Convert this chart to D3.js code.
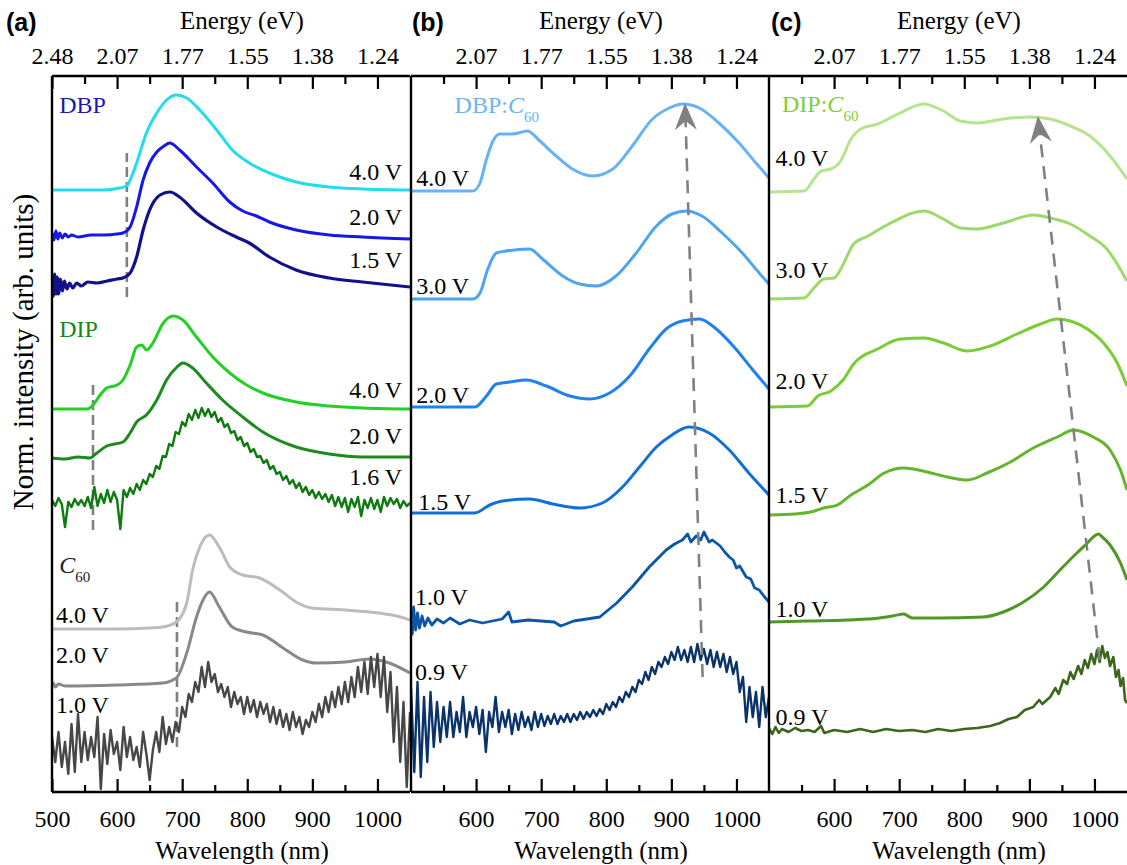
<!DOCTYPE html>
<html><head><meta charset="utf-8">
<script src="https://cdn.jsdelivr.net/npm/d3@7"></script>
<style>body{margin:0;background:#fff}svg{display:block}</style>
</head><body>
<svg id="chart" width="1127" height="865"></svg>
<script>
// ---------------- DATA ----------------
const wlDomain = [500, 1050];
const yDomain = [0, 71.6];
const majorTicksA = [500, 600, 700, 800, 900, 1000];
const majorTicksBC = [600, 700, 800, 900, 1000];
const minorTicks = [550, 650, 750, 850, 950];
const energyLabelsA = ["2.48", "2.07", "1.77", "1.55", "1.38", "1.24"];
const energyLabelsBC = ["2.07", "1.77", "1.55", "1.38", "1.24"];
const panelNames = ["(a)", "(b)", "(c)"];
const materialLabels = ["DBP", "DIP", "C60", "DBP:C60", "DIP:C60"];
const voltsDBP = ["4.0 V", "2.0 V", "1.5 V"];
const voltsDIP = ["4.0 V", "2.0 V", "1.6 V"];
const voltsC60 = ["4.0 V", "2.0 V", "1.0 V"];
const voltsBlend = ["4.0 V", "3.0 V", "2.0 V", "1.5 V", "1.0 V", "0.9 V"];

// panel (a) : DBP
const dbp40 = [[500,60.2],[580,60.2],[604,60.4],[615,60.6],[622,61.5],[630,62.9],[645,65.9],[661,67.9],[676,69.2],[692,69.7],[707,69.4],[727,68.2],[753,66.2],[777,64.2],[803,62.9],[834,61.9],[875,61.0],[926,60.5],[977,60.3],[1050,60.2]];
const dbp20 = [[500,55.9],[503,55.2],[506,56.1],[509,55.3],[512,55.9],[516,55.4],[520,55.8],[525,55.5],[530,55.7],[540,55.5],[560,55.7],[580,55.7],[600,55.8],[609,55.9],[620,56.5],[630,58.5],[640,61.2],[650,62.9],[661,64.0],[672,64.6],[681,64.9],[696,64.2],[722,62.5],[747,60.9],[773,59.0],[793,58.1],[814,57.6],[834,57.0],[875,56.2],[926,55.7],[977,55.5],[1050,55.3]];
const dbp15 = [[500,51.6],[502,49.6],[504,51.8],[506,49.8],[508,51.5],[510,49.8],[513,51.3],[516,50.1],[519,51.1],[523,50.3],[527,50.9],[532,50.4],[538,50.9],[545,50.6],[555,51.0],[569,50.9],[585,51.1],[600,51.3],[609,51.4],[620,51.9],[630,53.5],[640,56.2],[650,58.2],[666,59.7],[681,60.0],[696,59.5],[722,57.9],[753,56.5],[783,55.5],[803,54.9],[834,53.5],[875,52.2],[926,51.4],[977,51.0],[1050,50.5]];
// panel (a) : DIP
const dip40 = [[500,38.3],[554,38.3],[563,38.7],[574,39.7],[584,40.4],[600,40.7],[609,41.2],[620,42.7],[630,44.5],[638,44.7],[645,44.2],[655,44.9],[671,46.9],[686,47.6],[701,47.2],[722,45.5],[747,43.5],[773,41.9],[799,40.7],[824,39.9],[875,39.0],[926,38.6],[977,38.4],[1050,38.3]];
const dip20 = [[500,33.4],[520,33.3],[540,33.5],[558,33.4],[569,33.9],[584,34.6],[609,35.0],[620,35.9],[630,37.0],[645,37.7],[661,39.2],[676,41.2],[692,42.5],[701,42.9],[716,42.4],[737,40.9],[762,39.2],[793,37.5],[824,36.0],[875,34.5],[926,33.8],[977,33.5],[1050,33.5]];
const dip16 = [[500,29.2],[505,28.6],[510,29.4],[515,28.8],[520,26.5],[525,29.0],[530,28.5],[535,29.3],[540,28.7],[545,29.2],[550,28.6],[555,29.5],[560,28.4],[565,30.5],[570,28.6],[575,29.8],[580,28.9],[585,30.2],[590,29.0],[595,30.0],[600,29.2],[605,26.3],[610,30.2],[615,29.5],[620,30.4],[625,29.8],[630,30.8],[635,30.2],[640,31.2],[645,30.8],[650,31.8],[655,31.5],[660,32.6],[665,32.3],[670,33.6],[675,33.5],[680,34.8],[685,34.6],[690,36.0],[695,35.8],[700,37.0],[705,36.6],[710,37.8],[715,37.2],[720,38.2],[725,37.4],[730,38.4],[735,37.6],[740,38.3],[745,37.5],[750,38.0],[755,37.0],[760,37.4],[765,36.5],[770,36.8],[775,35.9],[780,36.1],[785,35.2],[790,35.5],[795,34.6],[800,34.9],[805,34.0],[810,34.3],[815,33.5],[820,33.6],[825,32.9],[830,33.2],[835,32.3],[840,32.6],[845,31.8],[850,32.0],[855,31.2],[860,31.6],[865,30.8],[870,31.2],[875,30.4],[880,30.9],[885,30.0],[890,30.5],[895,29.7],[900,30.2],[905,29.4],[910,30.0],[915,29.3],[920,29.8],[925,29.0],[930,29.7],[935,28.6],[940,29.5],[945,28.5],[950,29.4],[955,28.0],[960,29.3],[965,28.5],[970,29.5],[975,27.6],[980,29.2],[985,28.4],[990,29.4],[995,28.3],[1000,29.2],[1005,28.0],[1010,29.5],[1015,28.6],[1020,29.4],[1025,28.8],[1030,29.3],[1035,28.4],[1040,29.1],[1045,28.6],[1050,28.9]];
// panel (a) : C60
const c6040 = [[500,16.3],[600,16.3],[650,16.4],[670,16.5],[691,17.0],[707,18.9],[716,22.2],[727,24.5],[742,25.7],[757,24.5],[773,22.5],[793,21.7],[819,21.4],[850,20.2],[875,19.0],[900,18.4],[951,18.2],[1002,17.9],[1030,17.6],[1050,17.2]];
const c6020 = [[500,10.6],[502,10.9],[505,10.5],[510,10.8],[520,10.6],[600,10.7],[670,10.9],[691,11.4],[707,13.9],[722,17.5],[732,19.2],[742,20.0],[757,18.5],[777,16.5],[799,16.0],[824,15.7],[855,14.4],[885,13.2],[906,12.9],[951,13.0],[987,13.3],[1018,12.9],[1050,11.9]];
const c6010 = [[500,5.5],[505,3.0],[510,6.0],[515,2.5],[520,5.0],[525,1.8],[530,6.8],[535,2.0],[540,7.8],[545,3.0],[550,6.0],[555,3.2],[560,5.5],[565,3.5],[570,7.5],[575,0.3],[580,5.8],[585,2.8],[590,6.2],[595,3.8],[600,5.0],[605,2.2],[610,6.5],[615,3.5],[620,5.5],[625,3.2],[630,4.5],[635,2.5],[640,6.0],[645,3.8],[650,1.2],[655,4.2],[660,6.0],[665,4.0],[670,7.5],[675,4.8],[680,6.5],[685,5.0],[690,7.0],[695,6.0],[700,8.5],[705,7.5],[710,9.8],[715,9.0],[720,11.0],[725,10.0],[730,12.5],[735,10.5],[740,13.0],[745,11.0],[750,11.8],[755,10.0],[760,10.8],[765,9.5],[770,10.5],[775,8.5],[780,10.0],[785,8.8],[790,9.5],[795,7.8],[800,9.5],[805,8.0],[810,9.2],[815,7.5],[820,9.0],[825,7.8],[830,8.8],[835,7.0],[840,8.5],[845,6.8],[850,8.2],[855,6.5],[860,7.8],[865,6.2],[870,8.0],[875,6.5],[880,7.5],[885,5.8],[890,7.2],[895,6.5],[900,8.0],[905,7.0],[910,8.8],[915,7.5],[920,9.5],[925,8.0],[930,10.0],[935,8.5],[940,10.5],[945,8.8],[950,11.0],[955,9.0],[960,11.5],[965,9.5],[970,12.5],[975,10.0],[980,13.0],[985,9.8],[990,13.5],[995,10.5],[1000,13.8],[1005,9.5],[1010,13.5],[1015,8.0],[1020,12.0],[1025,5.0],[1030,10.5],[1035,3.0],[1040,9.0],[1045,0.5],[1050,8.0]];
const onsetLinesA = [[615,49.5,63.9],[563,26.2,41.0],[692,4.5,19.2]]; // [wavelength, from, to]

// panel (b) : DBP:C60
const b40 = [[500,60.1],[595,60.1],[606,60.9],[616,63.3],[626,65.1],[636,65.8],[656,65.8],[679,66.1],[698,65.1],[723,63.6],[748,62.3],[779,61.6],[810,62.3],[840,64.6],[871,67.3],[897,68.4],[917,68.8],[943,68.4],[973,66.9],[1004,64.9],[1030,62.9],[1050,61.4]];
const b30 = [[500,49.3],[595,49.3],[606,49.9],[618,52.3],[631,53.9],[646,54.1],[682,54.3],[702,53.3],[733,51.6],[759,50.8],[785,50.6],[815,51.6],[846,53.9],[877,56.6],[901,57.8],[923,58.1],[947,57.6],[978,55.9],[1009,53.9],[1035,51.9],[1050,50.8]];
const b20 = [[500,38.5],[598,38.5],[616,39.6],[631,40.8],[652,41.0],[677,41.2],[708,40.6],[744,39.6],[774,39.3],[805,39.9],[836,41.6],[866,44.3],[892,46.3],[917,47.1],[943,47.3],[969,46.3],[999,44.3],[1024,42.3],[1050,40.3]];
const b15 = [[500,27.9],[598,27.9],[621,28.7],[641,29.1],[682,29.3],[718,28.8],[759,28.4],[794,28.9],[825,30.5],[851,32.5],[877,34.5],[901,35.7],[927,36.5],[958,35.9],[989,34.2],[1019,31.9],[1050,29.7]];
const b10 = [[500,17.8],[502,15.8],[504,18.5],[507,16.2],[510,17.9],[513,16.4],[517,17.6],[521,16.6],[526,17.4],[532,16.7],[540,17.3],[550,16.9],[560,17.4],[575,16.8],[590,17.2],[610,16.9],[640,17.3],[650,18.0],[655,17.0],[680,17.2],[720,17.0],[730,16.6],[750,17.1],[790,17.5],[816,18.9],[840,20.5],[866,22.5],[892,24.2],[905,24.8],[917,25.2],[925,25.8],[930,25.0],[938,25.6],[945,25.2],[950,26.0],[958,25.0],[963,25.2],[975,24.6],[982,24.0],[989,23.5],[995,23.2],[1000,22.4],[1005,22.6],[1015,21.5],[1022,21.3],[1028,20.4],[1035,20.2],[1042,19.6],[1050,19.0]];
const b09 = [[500,10.5],[505,2.0],[510,11.0],[515,1.5],[520,9.5],[525,3.0],[530,10.0],[535,4.5],[540,9.0],[545,5.0],[550,8.5],[555,5.5],[560,9.0],[565,5.5],[570,8.0],[575,6.0],[580,9.5],[585,5.5],[590,8.0],[595,6.5],[600,8.5],[605,5.8],[610,8.2],[615,4.0],[620,8.0],[625,6.5],[630,9.5],[635,6.0],[640,8.0],[645,6.5],[650,8.2],[655,5.8],[660,7.8],[665,6.2],[670,8.0],[675,6.5],[680,7.5],[685,6.2],[690,8.0],[695,6.5],[700,7.8],[705,6.6],[710,7.6],[715,6.8],[720,7.8],[725,6.8],[730,7.6],[735,7.0],[740,7.8],[745,7.0],[750,7.8],[755,7.2],[760,8.0],[765,7.3],[770,8.0],[775,7.5],[780,8.2],[785,7.6],[790,8.3],[795,7.8],[800,8.8],[805,8.2],[810,9.0],[815,8.5],[820,9.5],[825,9.0],[830,10.0],[835,9.5],[840,10.5],[845,10.0],[850,11.2],[855,10.8],[860,12.0],[865,11.2],[870,12.5],[875,11.8],[880,13.0],[885,12.5],[890,13.5],[895,12.8],[900,14.0],[905,13.2],[910,14.5],[915,13.2],[920,14.2],[925,13.0],[930,14.5],[935,13.0],[940,14.8],[945,13.2],[950,14.3],[955,12.8],[960,14.2],[965,12.5],[970,14.0],[975,12.5],[980,13.8],[985,12.0],[990,13.5],[995,11.8],[1000,13.0],[1005,10.0],[1010,11.5],[1015,7.0],[1020,10.5],[1025,7.5],[1030,10.0],[1035,6.5],[1040,10.5],[1045,7.5],[1050,9.5]];
const shiftArrowB = [948, 11.5, 921, 68.9]; // from (wl,u) to (wl,u)

// panel (c) : DIP:C60
const c40 = [[500,60.0],[554,60.1],[569,61.3],[580,62.1],[595,62.3],[610,63.1],[626,65.3],[641,66.3],[667,66.8],[698,67.8],[738,68.8],[768,68.1],[794,67.1],[820,66.9],[860,67.3],[901,67.5],[932,67.3],[963,66.6],[993,65.6],[1024,63.6],[1050,61.3]];
const c30 = [[500,49.3],[554,49.4],[569,50.4],[584,51.3],[600,51.4],[615,52.9],[630,54.8],[652,55.6],[687,56.9],[738,58.1],[768,57.3],[794,56.4],[820,56.3],[860,56.9],[906,57.7],[932,57.4],[963,56.8],[993,55.6],[1019,54.3],[1050,51.1]];
const c20 = [[500,38.5],[559,38.6],[575,39.6],[595,40.1],[615,41.3],[630,42.8],[667,44.3],[702,45.3],[738,45.4],[768,44.9],[805,44.1],[840,44.6],[881,45.8],[917,46.8],[943,47.3],[963,47.1],[989,46.3],[1014,44.9],[1035,42.9],[1050,40.6]];
const c15 = [[500,27.7],[540,27.8],[564,28.0],[584,28.4],[605,28.7],[626,29.7],[652,30.7],[677,31.9],[707,32.4],[743,32.0],[774,31.5],[805,31.2],[835,31.9],[871,33.0],[906,34.4],[943,35.5],[968,36.2],[998,35.5],[1024,34.2],[1040,32.2],[1050,30.2]];
const c10 = [[500,17.0],[560,17.1],[620,17.2],[670,17.4],[690,17.6],[707,17.8],[720,17.4],[760,17.4],[829,17.5],[860,18.0],[891,19.0],[922,20.5],[947,22.2],[973,23.9],[989,24.9],[1000,25.6],[1006,25.8],[1012,25.5],[1024,24.7],[1040,22.9],[1050,21.2]];
const c09 = [[500,6.4],[505,5.8],[510,6.5],[515,5.9],[520,6.3],[530,6.0],[540,6.4],[550,6.1],[560,6.2],[570,6.0],[580,6.6],[585,5.9],[600,6.2],[620,6.0],[640,6.3],[660,6.0],[680,6.3],[700,6.1],[720,6.2],[740,6.0],[760,6.3],[780,6.1],[800,6.3],[820,6.4],[840,6.6],[855,6.9],[868,7.3],[881,7.5],[893,8.2],[906,8.5],[915,9.2],[920,8.8],[932,9.5],[940,10.4],[945,9.8],[952,11.2],[958,10.8],[963,12.0],[968,11.3],[975,12.6],[980,11.8],[985,13.2],[990,12.4],[995,13.8],[1000,12.8],[1004,14.2],[1008,13.0],[1012,14.6],[1016,13.4],[1020,14.0],[1024,12.6],[1029,13.5],[1033,11.5],[1037,12.2],[1040,10.6],[1044,11.4],[1047,9.2],[1050,8.9]];
const shiftArrowC = [1008, 13.2, 913, 67.6];

// ---------------- CHART ----------------
const svg = d3.select("#chart");
const SERIF = "'Liberation Serif','Times New Roman',serif";
const SANS = "'Liberation Sans',Arial,sans-serif";
const TOP = 76, BOTTOM = 792, PW = 358;
const y = d3.scaleLinear().domain(yDomain).range([BOTTOM, TOP]);

const panels = [
  { left: 52, name: panelNames[0], nameX: 6, majors: majorTicksA, energy: energyLabelsA,
    series: [
      { d: dbp40, c: "#22dcee", w: 3 }, { d: dbp20, c: "#1717e6", w: 3 }, { d: dbp15, c: "#11118a", w: 3.2 },
      { d: dip40, c: "#22d022", w: 3 }, { d: dip20, c: "#1d8a1d", w: 3 }, { d: dip16, c: "#0f7a0f", w: 2.4, lin: true },
      { d: c6040, c: "#bcbcbc", w: 3 }, { d: c6020, c: "#888888", w: 3 }, { d: c6010, c: "#474747", w: 2.4, lin: true }
    ],
    labels: [
      { t: voltsDBP[0], at: [1038, 61.2], a: "end" }, { t: voltsDBP[1], at: [1038, 56.7], a: "end" }, { t: voltsDBP[2], at: [1038, 52.4], a: "end" },
      { t: voltsDIP[0], at: [1038, 39.4], a: "end" }, { t: voltsDIP[1], at: [1038, 34.8], a: "end" }, { t: voltsDIP[2], at: [1038, 30.7], a: "end" },
      { t: voltsC60[0], at: [506, 16.9], a: "start" }, { t: voltsC60[1], at: [506, 12.9], a: "start" }, { t: voltsC60[2], at: [506, 7.9], a: "start" }
    ],
    mats: [
      { t: materialLabels[0], at: [511, 67.9], c: "#1a1aa8" },
      { t: materialLabels[1], at: [511, 45.5], c: "#148a14" },
      { t: materialLabels[2], at: [511, 21.9], c: "#222222" }
    ]
  },
  { left: 411, name: panelNames[1], nameX: 412, majors: majorTicksBC, energy: energyLabelsBC,
    series: [
      { d: b40, c: "#66b2f7", w: 3 }, { d: b30, c: "#4ca4f2", w: 3 }, { d: b20, c: "#1f82ea", w: 3 },
      { d: b15, c: "#1070d8", w: 3 }, { d: b10, c: "#0b56a8", w: 2.8, lin: true }, { d: b09, c: "#0a3469", w: 2.4, lin: true }
    ],
    labels: voltsBlend.map((t, i) => ({ t, at: [[508, 60.6], [508, 49.8], [508, 38.9], [511, 28.2], [506, 18.7], [506, 11.2]][i], a: "start" })),
    mats: [{ t: materialLabels[3], at: [567, 67.9], c: "#6ab4fa" }],
    arrow: shiftArrowB
  },
  { left: 769, name: panelNames[2], nameX: 771, majors: majorTicksBC, energy: energyLabelsBC,
    series: [
      { d: c40, c: "#b6e48e", w: 3 }, { d: c30, c: "#9cd96a", w: 3 }, { d: c20, c: "#78cd34", w: 3 },
      { d: c15, c: "#63b52c", w: 3 }, { d: c10, c: "#4e9824", w: 3 }, { d: c09, c: "#3b661c", w: 2.6, lin: true }
    ],
    labels: voltsBlend.map((t, i) => ({ t, at: [[510, 62.6], [510, 51.4], [510, 40.3], [510, 28.9], [510, 17.5], [510, 6.7]][i], a: "start" })),
    mats: [{ t: materialLabels[4], at: [520, 68.0], c: "#7ccf3a" }],
    arrow: shiftArrowC
  }
];

const defs = svg.append("defs");

panels.forEach((p, pi) => {
  const x = d3.scaleLinear().domain(wlDomain).range([p.left, p.left + PW]);
  const g = svg.append("g");
  defs.append("clipPath").attr("id", "clip" + pi).append("rect")
    .attr("x", p.left).attr("y", TOP).attr("width", PW).attr("height", BOTTOM - TOP);
  const plot = g.append("g").attr("clip-path", `url(#clip${pi})`);

  if (pi === 0) {
    onsetLinesA.forEach(([wl, u0, u1]) => {
      plot.append("line").attr("x1", x(wl)).attr("x2", x(wl)).attr("y1", y(u0)).attr("y2", y(u1))
        .attr("stroke", "#808080").attr("stroke-width", 2.6).attr("stroke-dasharray", "10,5");
    });
  }

  p.series.forEach(s => {
    const line = d3.line().x(d => x(d[0])).y(d => y(d[1]))
      .curve(s.lin ? d3.curveLinear : d3.curveMonotoneX);
    plot.append("path").datum(s.d).attr("d", line).attr("fill", "none")
      .attr("stroke", s.c).attr("stroke-width", s.w).attr("stroke-linejoin", "round");
  });

  if (p.arrow) {
    const [w0, u0, w1, u1] = p.arrow;
    const sx = x(w0), sy = y(u0), tx = x(w1), ty = y(u1);
    const len = Math.hypot(tx - sx, ty - sy);
    const dx = (tx - sx) / len, dy = (ty - sy) / len, nx = -dy, ny = dx;
    const L = 27, HW = 11, notch = 9;
    plot.append("line").attr("x1", sx).attr("y1", sy)
      .attr("x2", tx - dx * (L - notch)).attr("y2", ty - dy * (L - notch))
      .attr("stroke", "#808080").attr("stroke-width", 2.6).attr("stroke-dasharray", "13,9");
    const pts = [[tx, ty], [tx - dx * L + nx * HW, ty - dy * L + ny * HW],
      [tx - dx * (L - notch), ty - dy * (L - notch)], [tx - dx * L - nx * HW, ty - dy * L - ny * HW]];
    plot.append("path").attr("d", "M" + pts.map(q => q.join(",")).join("L") + "Z").attr("fill", "#808080");
  }

  const energyFmt = v => p.energy[p.majors.indexOf(v)];
  const styleAxis = sel => {
    sel.select(".domain").remove();
    sel.selectAll(".tick line").attr("stroke", "#000").attr("stroke-width", 2.2);
    sel.selectAll("text").attr("font-family", SERIF).attr("font-size", 24).attr("fill", "#000");
  };
  g.append("g").attr("transform", `translate(0,${BOTTOM})`)
    .call(d3.axisBottom(x).tickValues(p.majors).tickSize(-13).tickPadding(18).tickFormat(d3.format("d"))).call(styleAxis);
  g.append("g").attr("transform", `translate(0,${BOTTOM})`)
    .call(d3.axisBottom(x).tickValues(minorTicks).tickSize(-7).tickFormat("")).call(styleAxis);
  g.append("g").attr("transform", `translate(0,${TOP})`)
    .call(d3.axisTop(x).tickValues(p.majors).tickSize(-13).tickPadding(12).tickFormat(energyFmt)).call(styleAxis);
  g.append("g").attr("transform", `translate(0,${TOP})`)
    .call(d3.axisTop(x).tickValues(minorTicks).tickSize(-8).tickFormat("")).call(styleAxis);

  g.append("line").attr("x1", p.left).attr("x2", p.left + PW).attr("y1", TOP).attr("y2", TOP).attr("stroke", "#000").attr("stroke-width", 2.4);
  g.append("line").attr("x1", p.left).attr("x2", p.left + PW).attr("y1", BOTTOM).attr("y2", BOTTOM).attr("stroke", "#000").attr("stroke-width", 2.4);
  g.append("line").attr("x1", p.left).attr("x2", p.left).attr("y1", TOP).attr("y2", BOTTOM).attr("stroke", "#000").attr("stroke-width", 2.4);

  const cx = p.left + PW / 2 + 11;
  g.append("text").attr("x", cx).attr("y", 29).attr("text-anchor", "middle")
    .attr("font-family", SERIF).attr("font-size", 25).text("Energy (eV)");
  g.append("text").attr("x", cx).attr("y", 859).attr("text-anchor", "middle")
    .attr("font-family", SERIF).attr("font-size", 25).text("Wavelength (nm)");
  g.append("text").attr("x", p.nameX).attr("y", 31)
    .attr("font-family", SANS).attr("font-weight", "bold").attr("font-size", 25).text(p.name);

  p.labels.forEach(l => {
    g.append("text").attr("x", x(l.at[0])).attr("y", y(l.at[1])).attr("text-anchor", l.a)
      .attr("font-family", SERIF).attr("font-size", 24).attr("fill", "#000").text(l.t);
  });
  p.mats.forEach(m => {
    const t = g.append("text").attr("x", x(m.at[0])).attr("y", y(m.at[1]))
      .attr("font-family", SERIF).attr("font-size", 24).attr("fill", m.c);
    const idx = m.t.indexOf("C60");
    if (idx >= 0) {
      if (idx > 0) t.append("tspan").text(m.t.slice(0, idx));
      t.append("tspan").attr("font-style", "italic").text("C");
      t.append("tspan").attr("font-size", 15).attr("dy", 9).text("60");
    } else {
      t.text(m.t);
    }
  });
});

svg.append("text").attr("transform", "translate(33,352) rotate(-90)").attr("text-anchor", "middle")
  .attr("font-family", SERIF).attr("font-size", 29).text("Norm. intensity (arb. units)");
</script>
</body></html>
